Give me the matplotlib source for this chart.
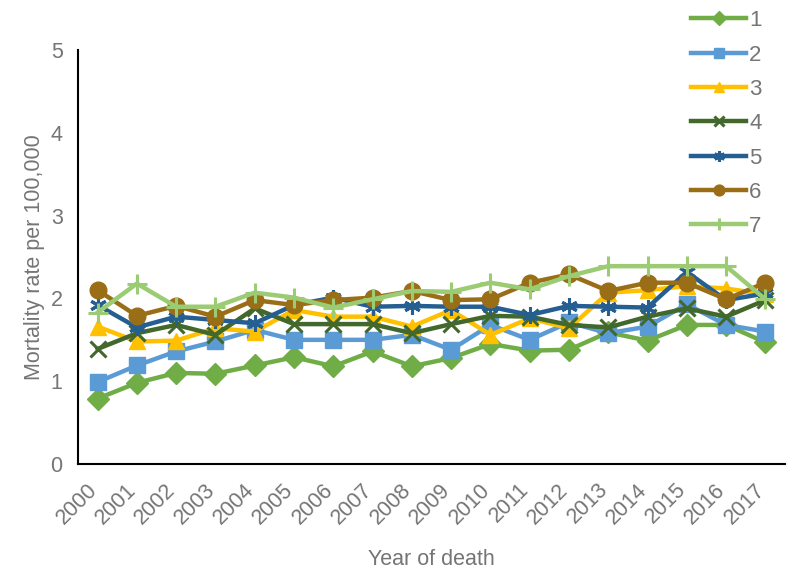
import matplotlib
matplotlib.use("Agg")
import matplotlib.pyplot as plt
from matplotlib.transforms import ScaledTranslation

plt.rcParams['font.family'] = ['Liberation Sans', 'DejaVu Sans']

# Data
years = [str(y) for y in range(2000, 2018)]
s1 = [0.79, 0.98, 1.10, 1.09, 1.19, 1.29, 1.18, 1.36, 1.18, 1.28, 1.45, 1.37, 1.38, 1.59, 1.49, 1.68, 1.68, 1.47]
s2 = [0.99, 1.19, 1.36, 1.48, 1.62, 1.50, 1.50, 1.50, 1.56, 1.38, 1.68, 1.50, 1.71, 1.58, 1.66, 1.93, 1.68, 1.60]
s3 = [1.66, 1.48, 1.49, 1.64, 1.60, 1.86, 1.78, 1.78, 1.66, 1.86, 1.56, 1.76, 1.64, 2.07, 2.10, 2.15, 2.12, 2.05]
s4 = [1.39, 1.58, 1.68, 1.56, 1.88, 1.69, 1.69, 1.69, 1.58, 1.69, 1.79, 1.78, 1.68, 1.65, 1.78, 1.88, 1.78, 1.98]
s5 = [1.92, 1.65, 1.78, 1.74, 1.70, 1.92, 2.01, 1.90, 1.91, 1.90, 1.90, 1.80, 1.91, 1.90, 1.89, 2.32, 1.98, 2.06]
s6 = [2.10, 1.79, 1.91, 1.78, 1.98, 1.92, 1.98, 2.01, 2.09, 1.98, 1.99, 2.19, 2.29, 2.09, 2.19, 2.19, 1.99, 2.19]
s7 = [1.83, 2.18, 1.90, 1.90, 2.07, 2.01, 1.89, 1.99, 2.09, 2.08, 2.19, 2.11, 2.27, 2.39, 2.39, 2.39, 2.39, 1.99]

series = [s1, s2, s3, s4, s5, s6, s7]
labels = ['1', '2', '3', '4', '5', '6', '7']
colors = ['#70AD47', '#5B9BD5', '#FFC000', '#43682B', '#255E91', '#9A6E16', '#9BCB73']
markers = ['D', 's', '^', 'x', (6, 2, 0), 'o', '+']
msizes = [11, 12, 12, 12, 12, 12, 14]

gray = '#757575'

fig = plt.figure(figsize=(7.9, 5.7), dpi=100)
ax = fig.add_axes([0.0987, 0.186, 0.895, 0.726])

x = list(range(len(years)))
for vals, lab, c, m, ms in zip(series, labels, colors, markers, msizes):
    thin = m in ('x', '+') or isinstance(m, tuple)
    ax.plot(x, vals, color=c, lw=3.2, marker=m, markersize=ms,
            markeredgewidth=2.2 if thin else 1,
            markeredgecolor=c, markerfacecolor=c, label=lab)

ax.set_xlim(-0.5, len(years) - 0.5)
ax.set_ylim(0, 5)
ax.set_yticks([0, 1, 2, 3, 4, 5])
ax.set_xticks(x)
ax.set_xticklabels(years, rotation=45, ha='right', va='top', rotation_mode='anchor')
ax.tick_params(axis='both', length=0, labelsize=15.5, labelcolor=gray)
ax.tick_params(axis='x', pad=8)
ax.tick_params(axis='y', pad=11)
shift = ScaledTranslation(-8 / 72, -3 / 72, fig.dpi_scale_trans)
for t in ax.get_xticklabels():
    t.set_transform(t.get_transform() + shift)

for side in ['top', 'right']:
    ax.spines[side].set_visible(False)
for side in ['left', 'bottom']:
    ax.spines[side].set_color('black')
    ax.spines[side].set_linewidth(1.5)

ax.set_xlabel('Year of death', fontsize=15.5, color=gray)
ax.xaxis.set_label_coords(0.5, -0.205)
ax.set_ylabel('Mortality rate per 100,000', fontsize=15.5, color=gray, labelpad=4)

leg = ax.legend(loc='upper left', bbox_to_anchor=(0.855, 1.118), frameon=False,
                fontsize=16, labelcolor=gray, handlelength=2.45, handletextpad=0.15,
                labelspacing=0.6, borderaxespad=0)
for h in leg.legend_handles:
    h.set_markersize(h.get_markersize() * 0.65)

fig.savefig('out.png', dpi=100)
